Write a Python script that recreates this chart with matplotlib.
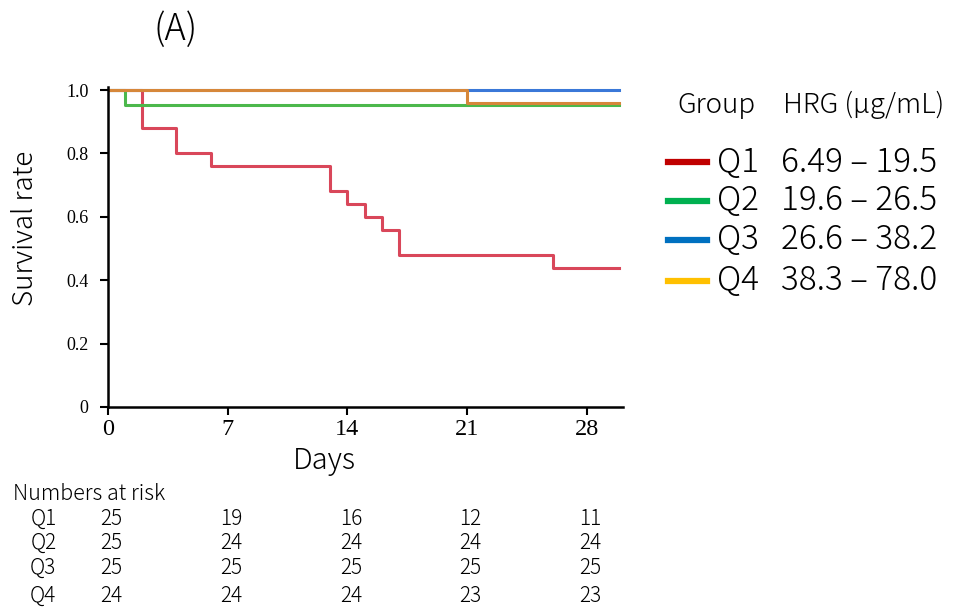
import matplotlib
matplotlib.use("Agg")
import matplotlib.pyplot as plt
from matplotlib.lines import Line2D
from matplotlib import transforms

# Kaplan-Meier steps (days, survival)
end_day = 29.9
q1_days = [0, 2, 4, 6, 13, 14, 15, 16, 17, 26, end_day]
q1_surv = [1.0, 0.88, 0.80, 0.76, 0.68, 0.64, 0.60, 0.56, 0.48, 0.44, 0.44]
q2_days = [0, 1, end_day]
q2_surv = [1.0, 0.953, 0.953]
q3_days = [0, end_day]
q3_surv = [1.0, 1.0]
q4_days = [0, 21, end_day]
q4_surv = [1.0, 0.959, 0.959]

groups = ["Q1", "Q2", "Q3", "Q4"]
hrg_ranges = ["6.49 \u2013 19.5", "19.6 \u2013 26.5", "26.6 \u2013 38.2", "38.3 \u2013 78.0"]
curve_colors = ["#d9475a", "#4cb84c", "#3a78d8", "#d6873a"]
legend_colors = ["#c00000", "#00b050", "#0070c0", "#ffc000"]

risk_days = [0, 7, 14, 21, 28]
at_risk = [
    [25, 19, 16, 12, 11],
    [25, 24, 24, 24, 24],
    [25, 25, 25, 25, 25],
    [24, 24, 24, 23, 23],
]

sans = ["Noto Sans CJK JP", "DejaVu Sans"]
serif = "Liberation Serif"
lw_text = "light"

fig = plt.figure(figsize=(9.64, 6.08), dpi=100)
ax = fig.add_axes([0.112, 0.3306, 0.534, 0.526])

series = [(q1_days, q1_surv), (q2_days, q2_surv), (q3_days, q3_surv), (q4_days, q4_surv)]
for (d, s), c in zip(series, curve_colors):
    ax.step(d, s, where="post", color=c, lw=2.2)

ax.set_xlim(0, 30.1)
ax.set_ylim(0, 1.009)
ax.set_xticks(risk_days)
ax.set_xticklabels([str(d) for d in risk_days], fontfamily=serif, fontsize=17.5)
yt = [0, 0.2, 0.4, 0.6, 0.8, 1.0]
ax.set_yticks(yt)
ax.set_yticklabels(["0", "0.2", "0.4", "0.6", "0.8", "1.0"], fontfamily=serif, fontsize=13)
ax.tick_params(axis="both", direction="out", length=6, width=1.5, colors="black")
ax.tick_params(axis="y", pad=8)
ax.tick_params(axis="x", pad=3)
for side in ["top", "right"]:
    ax.spines[side].set_visible(False)
for side in ["left", "bottom"]:
    ax.spines[side].set_linewidth(1.8)

fig.text(0.337, 0.243, "Days", fontfamily=sans, fontweight=lw_text, fontsize=21,
         ha="center", va="center")
fig.text(0.026, 0.625, "Survival rate", fontfamily=sans, fontweight=lw_text, fontsize=20,
         rotation=90, ha="center", va="center")

fig.text(0.182, 0.951, "(A)", fontfamily=sans, fontweight=lw_text, fontsize=26,
         ha="center", va="center")

# legend block
fig.text(0.703, 0.827, "Group", fontfamily=sans, fontweight=lw_text, fontsize=20, va="center")
fig.text(0.812, 0.827, "HRG (\u00b5g/mL)", fontfamily=sans, fontweight=lw_text, fontsize=20,
         va="center")
row_y = [0.733, 0.670, 0.605, 0.538]
for g, r, c, y in zip(groups, hrg_ranges, legend_colors, row_y):
    fig.add_artist(Line2D([0.693, 0.733], [y, y], color=c, lw=4.5, transform=fig.transFigure))
    fig.text(0.744, y, g, fontfamily=sans, fontweight=lw_text, fontsize=24, va="center")
    fig.text(0.810, y, r, fontfamily=sans, fontweight=lw_text, fontsize=24, va="center")

# numbers at risk table
fig.text(0.013, 0.188, "Numbers at risk", fontfamily=sans, fontweight=lw_text, fontsize=15.5,
         va="center")
trans = transforms.blended_transform_factory(ax.transData, fig.transFigure)
risk_y = [0.146, 0.107, 0.066, 0.020]
for g, row, y in zip(groups, at_risk, risk_y):
    fig.text(0.045, y, g, fontfamily=sans, fontweight=lw_text, fontsize=15,
             ha="center", va="center")
    for d, n in zip(risk_days, row):
        ax.text(d + 0.2, y, str(n), transform=trans, fontfamily=sans, fontweight=lw_text,
                fontsize=15, ha="center", va="center", clip_on=False)

fig.savefig("out.png", dpi=100)
